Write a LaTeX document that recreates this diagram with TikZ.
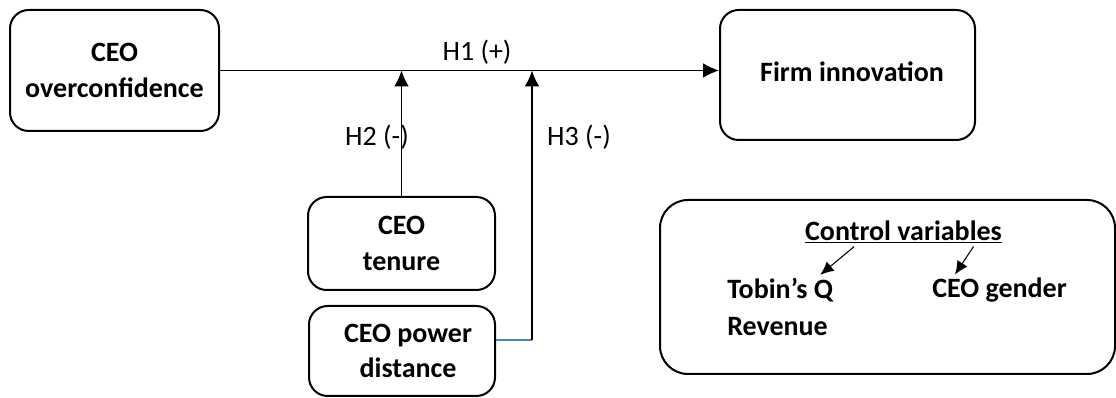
\documentclass[tikz,border=0pt]{standalone}
\usepackage{fontspec}
\setmainfont{Carlito}
\usetikzlibrary{arrows.meta}
\usetikzlibrary{calc}
\definecolor{linkblue}{RGB}{79,129,189}

\begin{document}
\begin{tikzpicture}[x=0.75pt, y=-0.75pt]
            \tikzset{box/.style={draw, line width=1.5pt, rounded corners=14pt, align=center, inner sep=0pt, font=\bfseries\fontsize{21}{26.5}\selectfont}}
            \tikzset{link/.style={line width=1pt, -{Latex[length=12pt, width=11pt]}}}
            \tikzset{pick/.style={line width=0.8pt, -{Latex[length=10pt, width=9pt]}}}
            \tikzset{hyp/.style={inner sep=0pt, font=\fontsize{21}{26.5}\selectfont}}
            \tikzset{ctrl/.style={inner sep=0pt, font=\bfseries\fontsize{21}{26.5}\selectfont}}
            \useasboundingbox (0,0) rectangle (1116,398);
            \node[box, minimum width=156.75pt, minimum height=90.75pt] (overconf) at (114.5,70.5) {CEO\\overconfidence};
            \node[box, minimum width=191.25pt, minimum height=97.5pt] (firm) at (847.5,75) {};
            \node[ctrl] (firmtext) at (852,72) {Firm innovation};
            \node[box, minimum width=140.25pt, minimum height=69.75pt] (tenure) at (401.5,243.5) {CEO\\tenure};
            \node[box, minimum width=139.5pt, minimum height=67.5pt] (power) at (402,351) {\hspace*{9pt}CEO power\\\hspace*{9pt}distance};
            \node[box, rounded corners=21pt, minimum width=341.25pt, minimum height=130.5pt] (controls) at (887.5,287) {};
            \node[hyp] (h1) at (477,52) {H1 (+)};
            \node[hyp] (h2) at (377,137) {H2 (-)};
            \node[hyp] (h3) at (579,137) {H3 (-)};
            \node[ctrl] (ctrlhead) at (903.5,232) {\underline{Control variables}};
            \node[ctrl, anchor=west] (tobin) at (727,290) {Tobin’s Q};
            \node[ctrl, anchor=west] (revenue) at (727,327) {Revenue};
            \node[ctrl, anchor=west] (gender) at (932,290) {CEO gender};
            \coordinate (pd) at ($(power.east)+(0,-11)$);
            \coordinate (bend) at (532,340);
            \draw[link] (overconf.east) -- (overconf.east -| firm.west);
            \draw[link] (tenure.north) -- (tenure.north |- overconf.east);
            \draw[linkblue, line width=1pt] (pd) -- (bend);
            \draw[link] (bend) -- (bend |- overconf.east);
            \draw[pick] ($(ctrlhead.south)!0.5!(ctrlhead.south west)+(0,3)$) -- ($(tobin.north east)+(-13,-3)$);
            \draw[pick] ($(ctrlhead.south)!0.71!(ctrlhead.south east)+(0,3)$) -- ($(gender.north west)+(23,-3)$);
\end{tikzpicture}
\end{document}
